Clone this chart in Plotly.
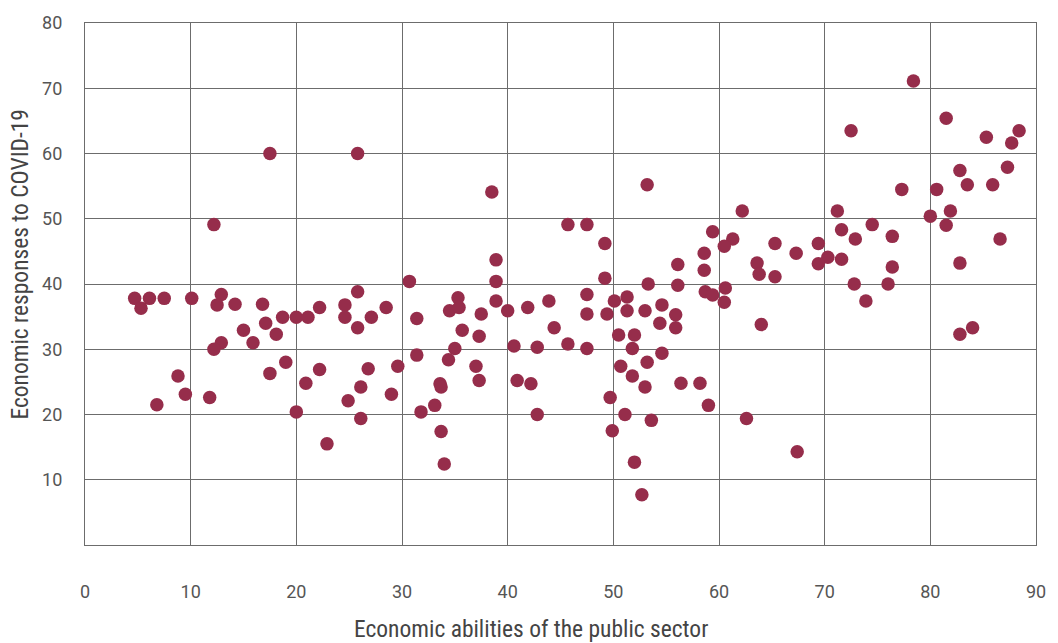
import plotly.graph_objects as go

# Economic abilities of the public sector (x) and economic responses to COVID-19 (y)
x_ability = [
    17.5, 12.2, 4.7, 6.1, 7.5, 5.3, 10.1, 12.9, 12.5, 14.2, 16.8, 22.2, 18.7, 20.0, 21.1, 17.1,
    15.0, 18.1, 12.9, 12.2, 15.9, 19.0, 17.5, 22.2, 20.9, 8.8, 9.5, 6.8, 11.8, 20.0, 22.9,
    25.8, 38.5, 38.9, 38.9, 30.7, 25.8, 24.6, 24.6, 25.8, 27.1, 28.5, 31.4, 35.3, 34.5, 35.4,
    37.5, 35.7, 37.3, 38.9, 40.0, 41.9, 43.9, 44.4, 35.0, 31.4, 34.4, 37.0, 40.6, 42.8, 26.8,
    29.6, 26.1, 29.0, 24.9, 33.6, 33.7, 37.3, 40.9, 42.2, 33.1, 31.8, 26.1, 42.8, 33.7, 34.0,
    53.2, 45.7, 47.5, 49.2, 62.2, 59.4, 61.3, 60.5, 65.3, 67.3, 58.6, 58.6, 56.1, 49.2, 63.6,
    63.8, 65.3, 53.3, 56.1, 58.7, 59.4, 60.6, 60.5, 47.5, 50.1, 51.3, 47.5, 49.4, 51.3, 53.0,
    54.6, 55.9, 54.4, 55.9, 64.0, 45.7, 47.5, 50.5, 52.0, 51.8, 54.6, 50.7, 53.2, 51.8, 53.0,
    56.4, 58.2, 49.7, 59.0, 51.1, 53.6, 62.6, 49.9, 67.4, 52.0, 52.7,
    78.4, 81.5, 72.5, 85.3, 88.4, 87.7, 82.8, 87.3, 83.5, 85.9, 77.3, 80.6, 71.2, 81.9, 80.0,
    81.5, 74.5, 71.6, 76.4, 86.6, 72.9, 69.4, 70.3, 69.4, 71.6, 76.4, 82.8, 72.8, 76.0, 73.9,
    84.0, 82.8,
]
y_response = [
    60.0, 49.1, 37.8, 37.8, 37.8, 36.3, 37.8, 38.4, 36.8, 36.9, 36.9, 36.4, 34.9, 34.9, 34.9, 34.0,
    32.9, 32.3, 31.0, 30.0, 31.0, 28.0, 26.3, 26.9, 24.8, 25.9, 23.1, 21.5, 22.6, 20.4, 15.5,
    60.0, 54.1, 43.7, 40.4, 40.4, 38.8, 36.8, 34.9, 33.3, 34.9, 36.4, 34.7, 37.9, 35.9, 36.4,
    35.4, 32.9, 32.0, 37.4, 35.9, 36.4, 37.4, 33.3, 30.1, 29.1, 28.4, 27.4, 30.5, 30.3, 27.0,
    27.4, 24.2, 23.1, 22.1, 24.7, 24.2, 25.2, 25.2, 24.7, 21.4, 20.4, 19.4, 20.0, 17.4, 12.4,
    55.2, 49.1, 49.1, 46.2, 51.2, 48.0, 46.9, 45.8, 46.2, 44.7, 44.7, 42.1, 43.0, 40.9, 43.2,
    41.5, 41.1, 40.0, 39.8, 38.8, 38.3, 39.4, 37.2, 38.4, 37.4, 38.0, 35.4, 35.4, 35.9, 35.9,
    36.8, 35.3, 34.0, 33.3, 33.8, 30.8, 30.1, 32.2, 32.2, 30.1, 29.4, 27.4, 28.0, 25.9, 24.2,
    24.8, 24.8, 22.6, 21.4, 20.0, 19.1, 19.4, 17.5, 14.3, 12.7, 7.7,
    71.1, 65.4, 63.5, 62.5, 63.5, 61.6, 57.4, 57.9, 55.2, 55.2, 54.5, 54.5, 51.2, 51.2, 50.4,
    49.0, 49.1, 48.3, 47.3, 46.9, 46.9, 46.2, 44.1, 43.1, 43.8, 42.6, 43.2, 40.0, 40.0, 37.4,
    33.3, 32.3,
]

x_ticks = [0, 10, 20, 30, 40, 50, 60, 70, 80, 90]
y_ticks = [10, 20, 30, 40, 50, 60, 70, 80]

x_title = "Economic abilities of the public sector"
y_title = "Economic responses to COVID-19"

dot_color = "#962D4B"
grid_color = "#6c6c6c"
title_font = "Roboto Condensed, Liberation Sans Narrow, DejaVu Sans Condensed, Arial Narrow, Roboto"

fig = go.Figure(
    go.Scatter(
        x=x_ability,
        y=y_response,
        mode="markers",
        marker=dict(size=13.5, color=dot_color, line=dict(width=0)),
        hoverinfo="x+y",
    )
)

fig.update_layout(
    width=1058,
    height=643,
    margin=dict(l=85, r=19, t=15, b=98),
    plot_bgcolor="white",
    paper_bgcolor="white",
    showlegend=False,
    annotations=[
        dict(text=x_title, xref="paper", yref="paper", x=0.4686, y=-0.1604,
             xanchor="center", yanchor="middle", showarrow=False,
             font=dict(family=title_font, size=23.5, color="#444444")),
        dict(text=y_title, xref="paper", yref="paper", x=-0.0681, y=0.5377,
             xanchor="center", yanchor="middle", showarrow=False, textangle=-90,
             font=dict(family=title_font, size=23.5, color="#444444")),
    ],
)

fig.update_xaxes(
    range=[0, 90], tickvals=x_ticks, showgrid=True, gridcolor=grid_color, gridwidth=1.2,
    showline=True, linecolor=grid_color, linewidth=1.2, mirror=True, zeroline=False,
    ticks="", ticklabelstandoff=30,
    tickfont=dict(family="Roboto", size=18, color="#555555"),
)
fig.update_yaxes(
    range=[0, 80], tickvals=y_ticks, showgrid=True, gridcolor=grid_color, gridwidth=1.2,
    showline=True, linecolor=grid_color, linewidth=1.2, mirror=True, zeroline=False,
    ticks="", ticklabelstandoff=18,
    tickfont=dict(family="Roboto", size=18, color="#555555"),
)

fig.write_html(
    "out.html",
    config={"displayModeBar": False},
    post_script="document.body.style.margin='0';document.body.style.overflow='hidden';",
)
